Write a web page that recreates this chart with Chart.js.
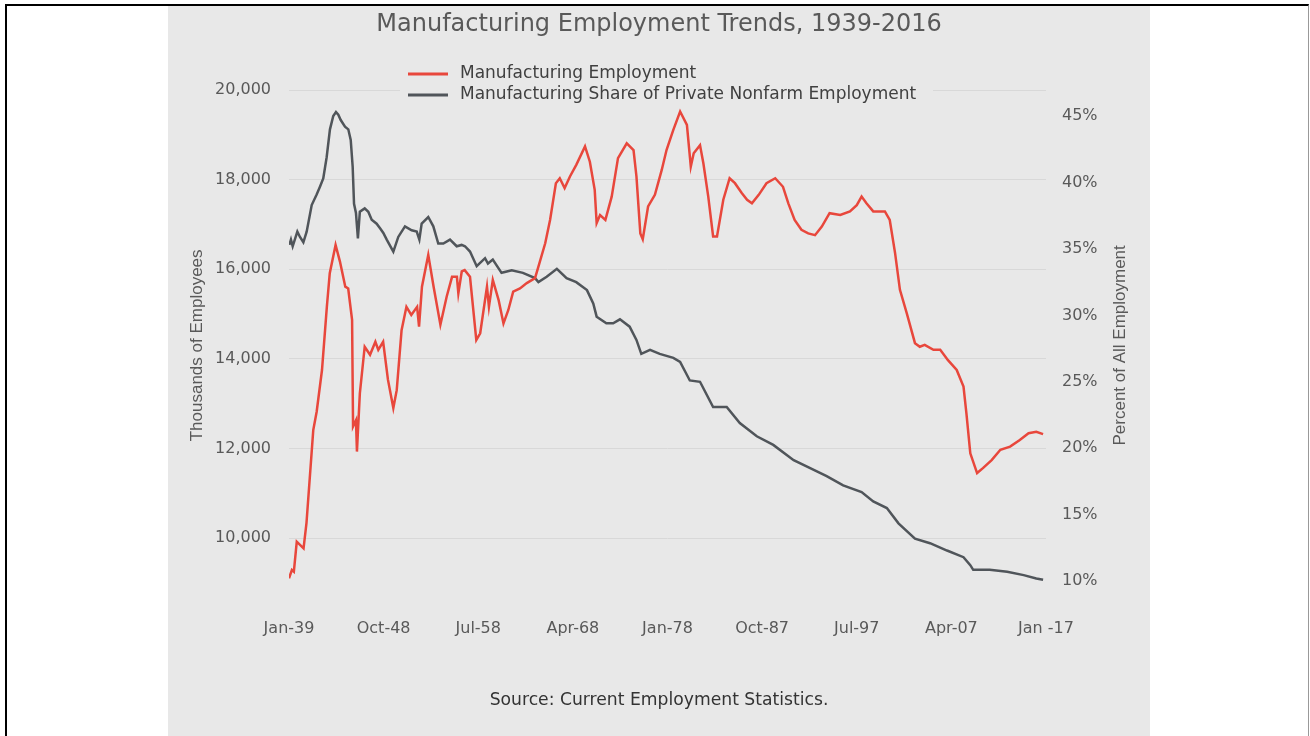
<!DOCTYPE html>
<html>
<head>
<meta charset="utf-8">
<title>Manufacturing Employment Trends, 1939-2016</title>
<script src="https://cdn.jsdelivr.net/npm/chart.js@4"></script>
<style>
  html, body { margin: 0; padding: 0; background: #fff; }
  body { width: 1310px; height: 736px; position: relative; overflow: hidden; }
  #frame {
    position: absolute; left: 5px; top: 4px; width: 1304px; height: 760px; box-sizing: border-box;
    border-left: 2px solid #000; border-top: 2px solid #000; border-right: 1px solid #999;
  }
  #panel { position: absolute; left: 168px; top: 6px; width: 982px; height: 730px; background: #e8e8e8; }
</style>
</head>
<body>
<div id="frame"></div>
<div id="panel"><canvas id="chart"></canvas></div>
<script>
'use strict';

// ─── Data ─────────────────────────────────────────────────────────────────────
const xTickYears  = [1939, 1948.75, 1958.5, 1968.25, 1978, 1987.75, 1997.5, 2007.25, 2017];
const xTickLabels = ['Jan-39', 'Oct-48', 'Jul-58', 'Apr-68', 'Jan-78', 'Oct-87', 'Jul-97', 'Apr-07', 'Jan -17'];
const leftTicks   = [10000, 12000, 14000, 16000, 18000, 20000];
const rightTicks  = [10, 15, 20, 25, 30, 35, 40, 45];

// Manufacturing employment, thousands
const empYears = [
  1939.0, 1939.3, 1939.5, 1939.8, 1940.5, 1940.8, 1941.5, 1941.85, 1942.4, 1942.9,
  1943.2, 1943.8, 1944.25, 1944.8, 1945.1, 1945.5, 1945.6, 1945.9, 1946.0, 1946.3,
  1946.8, 1947.35, 1947.9, 1948.2, 1948.7, 1949.2, 1949.75, 1950.1, 1950.6, 1951.1,
  1951.6, 1952.2, 1952.4, 1952.7, 1953.35, 1953.9, 1954.6, 1955.25, 1955.8, 1956.3,
  1956.45, 1956.8, 1957.1, 1957.65, 1958.3, 1958.7, 1959.4, 1959.6, 1960.0, 1960.6,
  1961.1, 1961.6, 1962.1, 1962.8, 1963.5, 1964.35, 1964.7, 1965.4, 1965.9, 1966.5,
  1966.9, 1967.4, 1967.95, 1968.6, 1969.5, 1970.0, 1970.5, 1970.7, 1971.05, 1971.6,
  1972.25, 1972.9, 1973.8, 1974.5, 1974.8, 1975.2, 1975.45, 1976.0, 1976.7, 1977.4,
  1977.9, 1978.6, 1979.3, 1980.0, 1980.4, 1980.7, 1981.35, 1981.7, 1982.2, 1982.7,
  1983.1, 1983.75, 1984.4, 1984.95, 1985.65, 1986.2, 1986.7, 1987.4, 1988.2, 1989.1,
  1989.9, 1990.45, 1991.1, 1991.8, 1992.5, 1993.2, 1993.9, 1994.7, 1995.8, 1996.8,
  1997.5, 1998.0, 1998.5, 1999.2, 2000.4, 2000.9, 2001.45, 2001.95, 2002.65, 2003.5,
  2004.0, 2004.5, 2005.4, 2006.1, 2006.9, 2007.8, 2008.5, 2008.8, 2009.2, 2009.9,
  2010.5, 2011.4, 2012.3, 2013.3, 2014.3, 2015.2, 2016.0, 2016.7,
];
const empValues = [
  9100, 9290, 9250, 9920, 9770, 10330, 12410, 12820, 13750, 15160,
  15910, 16540, 16170, 15610, 15570, 14870, 12490, 12630, 11930, 13230,
  14270, 14090, 14380, 14200, 14380, 13530, 12900, 13300, 14640, 15160,
  14980, 15160, 14720, 15610, 16320, 15610, 14760, 15390, 15830, 15830,
  15460, 15950, 15980, 15830, 14420, 14570, 15610, 15160, 15760, 15310,
  14790, 15090, 15500, 15570, 15690, 15800, 16060, 16580, 17100, 17920,
  18030, 17810, 18070, 18330, 18740, 18400, 17770, 17030, 17210, 17100,
  17620, 18480, 18810, 18660, 18070, 16800, 16670, 17400, 17660, 18210,
  18660, 19110, 19520, 19220, 18290, 18590, 18770, 18360, 17620, 16730,
  16730, 17550, 18030, 17920, 17700, 17550, 17470, 17660, 17920, 18030,
  17840, 17470, 17100, 16880, 16800, 16760, 16950, 17250, 17210, 17290,
  17430, 17620, 17470, 17290, 17290, 17100, 16360, 15540, 15020, 14350,
  14270, 14310, 14200, 14200, 13970, 13750, 13380, 12780, 11890, 11450,
  11560, 11740, 11970, 12040, 12190, 12340, 12370, 12320,
];

// Manufacturing share of private nonfarm employment, percent
const shareYears = [
  1939.03, 1939.2, 1939.38, 1939.86, 1940.13, 1940.48, 1940.82, 1941.34, 1941.85, 1942.2,
  1942.53, 1942.88, 1943.22, 1943.56, 1943.84, 1944.08, 1944.33, 1944.77, 1945.11, 1945.36,
  1945.56, 1945.7, 1945.9, 1946.1, 1946.3, 1946.8, 1947.17, 1947.52, 1948.03, 1948.38,
  1948.72, 1949.07, 1949.75, 1950.26, 1950.95, 1951.64, 1952.16, 1952.43, 1952.67, 1953.35,
  1953.87, 1954.38, 1954.9, 1955.59, 1956.28, 1956.79, 1957.13, 1957.65, 1958.34, 1959.2,
  1959.5, 1960.0, 1960.9, 1961.95, 1963.1, 1964.35, 1964.7, 1965.55, 1966.6, 1967.6,
  1968.6, 1969.7, 1970.35, 1970.7, 1971.7, 1972.4, 1973.1, 1974.1, 1974.8, 1975.3,
  1976.2, 1977.2, 1978.6, 1979.3, 1980.3, 1981.35, 1982.7, 1984.1, 1985.45, 1987.2,
  1988.9, 1991.0, 1992.7, 1994.4, 1996.1, 1998.0, 1999.2, 2000.6, 2001.8, 2003.5,
  2005.05, 2006.8, 2008.5, 2009.2, 2009.5, 2011.2, 2013.0, 2014.7, 2016.0, 2016.7,
];
const shareValues = [
  35.3, 35.7, 35.2, 36.3, 35.9, 35.5, 36.3, 38.3, 39.1, 39.7,
  40.3, 41.9, 44.0, 45.0, 45.3, 45.1, 44.7, 44.2, 44.0, 43.2,
  41.2, 38.4, 37.7, 35.8, 37.8, 38.05, 37.8, 37.2, 36.9, 36.55,
  36.2, 35.7, 34.8, 35.9, 36.7, 36.4, 36.3, 35.7, 36.9, 37.4,
  36.7, 35.4, 35.4, 35.7, 35.2, 35.3, 35.2, 34.8, 33.7, 34.3,
  33.9, 34.2, 33.2, 33.4, 33.2, 32.8, 32.5, 32.9, 33.5, 32.8,
  32.5, 31.9, 30.9, 29.9, 29.4, 29.4, 29.7, 29.15, 28.15, 27.1,
  27.4, 27.1, 26.8, 26.5, 25.1, 25.0, 23.1, 23.1, 21.9, 20.9,
  20.25, 19.1, 18.5, 17.9, 17.2, 16.7, 16.0, 15.5, 14.35, 13.2,
  12.85, 12.3, 11.8, 11.2, 10.85, 10.85, 10.7, 10.45, 10.2, 10.1,
];

// ─── Style ────────────────────────────────────────────────────────────────────
const COLORS = {
  emp:   '#e8473c',
  share: '#50555a',
  text:  '#595959',
  grid:  '#d8d8d8',
  bg:    '#e8e8e8',
};
const TICK_FONT  = { family: 'DejaVu Sans', size: 16 };
const AXIS_FONT  = { family: 'Liberation Sans', size: 17 };

const toPoints = (xs, ys) => xs.map((x, i) => ({ x, y: ys[i] }));

// ─── Plugins ──────────────────────────────────────────────────────────────────

// Legend with the two entries stacked, sitting over the top of the plot
const stackedLegend = {
  id: 'stackedLegend',
  afterDraw(chart, args, opts) {
    const { ctx } = chart;
    const sets = chart.data.datasets;
    ctx.save();
    ctx.fillStyle = opts.background;
    ctx.fillRect(opts.x, opts.y, opts.width, opts.rowHeight * sets.length + 2);
    ctx.font = `${opts.fontSize}px "${opts.fontFamily}"`;
    ctx.textAlign = 'left';
    ctx.textBaseline = 'middle';
    sets.forEach((ds, i) => {
      const cy = opts.y + 1 + opts.rowHeight * (i + 0.5);
      ctx.strokeStyle = ds.borderColor;
      ctx.lineWidth = opts.lineWidth;
      ctx.beginPath();
      ctx.moveTo(opts.x + 8, cy);
      ctx.lineTo(opts.x + 8 + opts.sampleWidth, cy);
      ctx.stroke();
      ctx.fillStyle = opts.color;
      ctx.fillText(ds.label, opts.x + 20 + opts.sampleWidth, cy);
    });
    ctx.restore();
  },
};

// Right axis title, reading bottom to top like the left one
const rightTitle = {
  id: 'rightTitle',
  afterDraw(chart, args, opts) {
    const { ctx, chartArea } = chart;
    const scale = chart.scales[opts.scaleId];
    ctx.save();
    ctx.translate(scale.right - opts.offset, (chartArea.top + chartArea.bottom) / 2);
    ctx.rotate(-Math.PI / 2);
    ctx.font = `${opts.fontSize}px "${opts.fontFamily}"`;
    ctx.fillStyle = opts.color;
    ctx.textAlign = 'center';
    ctx.textBaseline = 'middle';
    ctx.fillText(opts.text, 0, 0);
    ctx.restore();
  },
};

// ─── Chart ────────────────────────────────────────────────────────────────────
new Chart(document.getElementById('chart').getContext('2d'), {
  type: 'line',
  data: {
    datasets: [
      {
        label: 'Manufacturing Employment',
        data: toPoints(empYears, empValues),
        yAxisID: 'y',
        borderColor: COLORS.emp,
        borderWidth: 2.5,
        pointRadius: 0,
        tension: 0,
      },
      {
        label: 'Manufacturing Share of Private Nonfarm Employment',
        data: toPoints(shareYears, shareValues),
        yAxisID: 'y2',
        borderColor: COLORS.share,
        borderWidth: 2.5,
        pointRadius: 0,
        tension: 0,
      },
    ],
  },
  options: {
    responsive: true,
    maintainAspectRatio: false,
    animation: false,
    layout: { padding: 0 },
    plugins: {
      legend: { display: false },
      tooltip: { enabled: false },
      title: {
        display: true,
        text: 'Manufacturing Employment Trends, 1939-2016',
        color: COLORS.text,
        font: { family: 'DejaVu Sans', size: 24, weight: 'normal' },
        padding: { top: 4, bottom: 51.2 },
      },
      subtitle: {
        display: true,
        position: 'bottom',
        text: 'Source: Current Employment Statistics.',
        color: '#333333',
        font: { family: 'DejaVu Sans', size: 17.2, weight: 'normal' },
        padding: { top: 49, bottom: 25.6 },
      },
      stackedLegend: {
        x: 232, y: 56.5, width: 533, rowHeight: 21,
        sampleWidth: 40, lineWidth: 3,
        background: COLORS.bg, color: '#404040',
        fontFamily: 'DejaVu Sans', fontSize: 17,
      },
      rightTitle: {
        scaleId: 'y2', offset: 30,
        text: 'Percent of All Employment',
        color: COLORS.text, fontFamily: 'Liberation Sans', fontSize: 17,
      },
    },
    scales: {
      x: {
        type: 'linear',
        min: 1939,
        max: 2017,
        grid: { display: false, drawTicks: false },
        border: { display: false },
        afterBuildTicks: s => { s.ticks = xTickYears.map(v => ({ value: v })); },
        afterFit: s => { s.height = 40; },
        ticks: {
          autoSkip: false,
          maxRotation: 0,
          padding: 18,
          color: COLORS.text,
          font: TICK_FONT,
          callback: (v, i) => xTickLabels[i],
        },
      },
      y: {
        position: 'left',
        min: 8600,
        max: 20000,
        grid: { color: COLORS.grid, lineWidth: 1, drawTicks: false },
        border: { display: false },
        afterBuildTicks: s => { s.ticks = leftTicks.map(v => ({ value: v })); },
        afterFit: s => { s.width = 121; },
        ticks: {
          padding: 18,
          color: COLORS.text,
          font: TICK_FONT,
          callback: v => v.toLocaleString('en-US'),
        },
        title: {
          display: true,
          text: 'Thousands of Employees',
          color: COLORS.text,
          font: AXIS_FONT,
          padding: { top: 19, bottom: 0 },
        },
      },
      y2: {
        position: 'right',
        min: 8.52,
        max: 46.96,
        grid: { display: false, drawTicks: false },
        border: { display: false },
        afterBuildTicks: s => { s.ticks = rightTicks.map(v => ({ value: v })); },
        afterFit: s => { s.width = 104; },
        ticks: {
          padding: 16,
          color: COLORS.text,
          font: TICK_FONT,
          callback: v => v + '%',
        },
      },
    },
  },
  plugins: [stackedLegend, rightTitle],
});
</script>
</body>
</html>
